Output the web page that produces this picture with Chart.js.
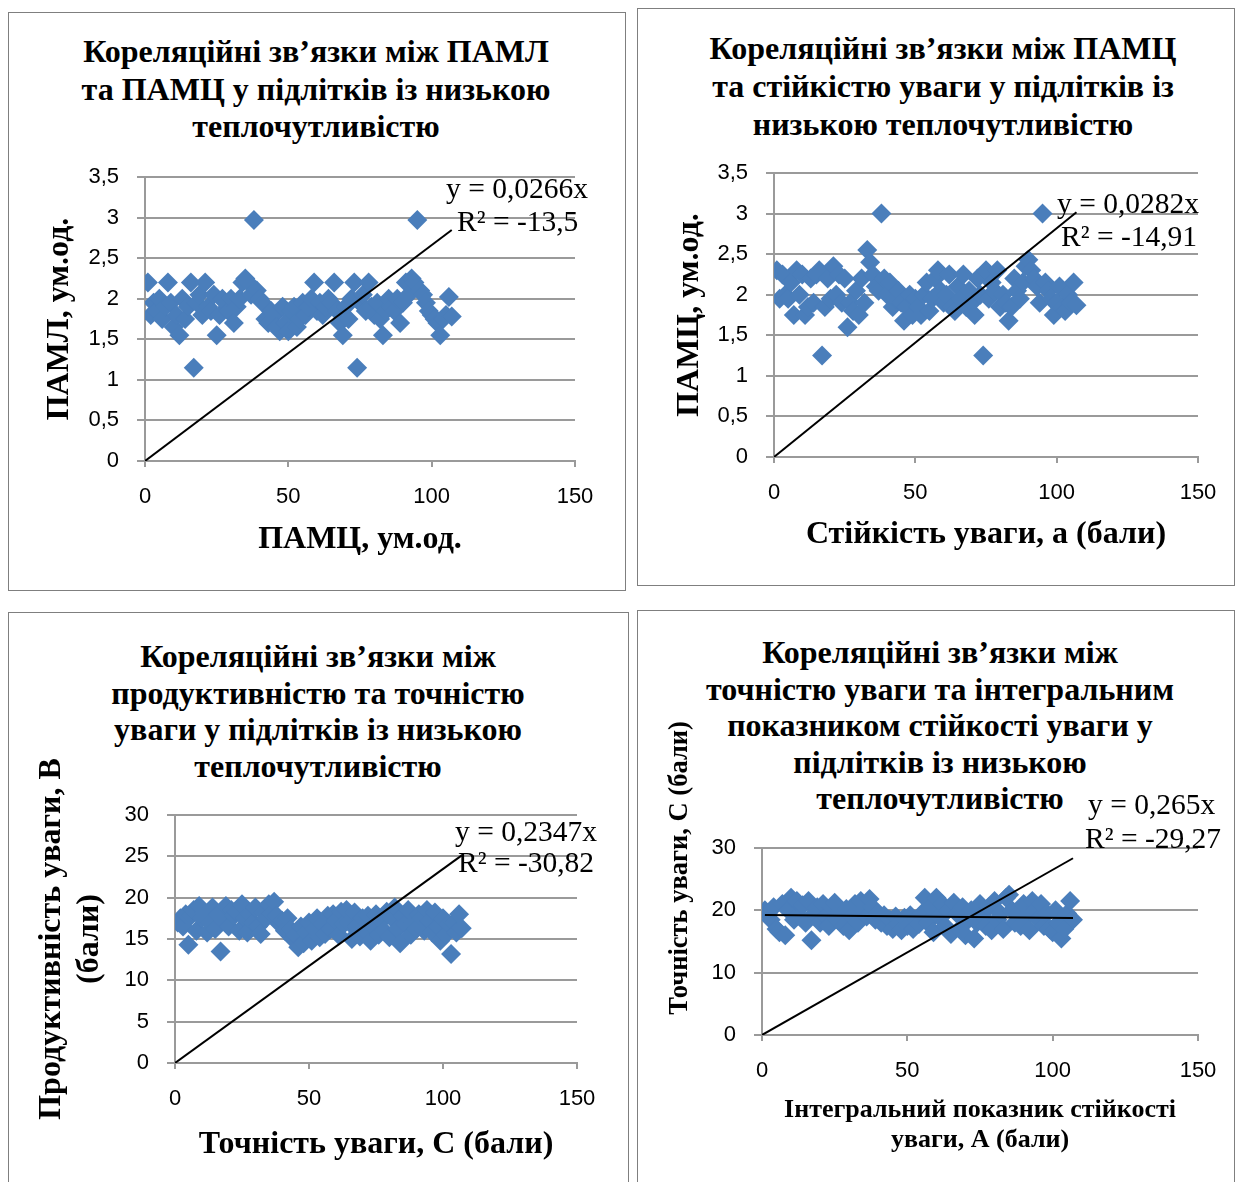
<!DOCTYPE html>
<html lang="uk">
<head>
<meta charset="UTF-8">
<title>Кореляційні зв’язки у підлітків із низькою теплочутливістю</title>
<script src="https://cdn.jsdelivr.net/npm/chart.js"></script>
<style>
  body { margin: 0; background: #fff; width: 1235px; height: 1182px; position: relative; overflow: hidden; font-family: "Liberation Serif", "Times New Roman", serif; color: #000; }
  .panel { position: absolute; border: 1px solid #7f7f7f; box-sizing: border-box; }
  .box { position: absolute; }
  .title { position: absolute; width: 640px; text-align: center; font-weight: bold; font-size: 32px; white-space: nowrap; }
  .eq { position: absolute; font-size: 29.5px; line-height: 32px; white-space: nowrap; }
  .vtitle { position: absolute; width: 400px; text-align: center; font-weight: bold; font-size: 26.5px; line-height: 28px; transform: rotate(-90deg); white-space: nowrap; }
</style>
</head>
<body>

<div class="panel" style="left:8px;top:12px;width:618px;height:579px"></div>
<div class="panel" style="left:637px;top:8px;width:598px;height:578px"></div>
<div class="panel" style="left:8px;top:612px;width:621px;height:580px"></div>
<div class="panel" style="left:637px;top:610px;width:598px;height:582px"></div>

<div class="title" style="left:-4px;top:33px;line-height:37.5px">Кореляційні зв’язки між ПАМЛ<br>та ПАМЦ у підлітків із низькою<br>теплочутливістю</div>
<div class="title" style="left:623px;top:29px;line-height:38px">Кореляційні зв’язки між ПАМЦ<br>та стійкістю уваги у підлітків із<br>низькою теплочутливістю</div>
<div class="title" style="left:-2px;top:638px;line-height:36.7px">Кореляційні зв’язки між<br>продуктивністю та точністю<br>уваги у підлітків із низькою<br>теплочутливістю</div>
<div class="title" style="left:620px;top:634px;line-height:36.5px">Кореляційні зв’язки між<br>точністю уваги та інтегральним<br>показником стійкості уваги у<br>підлітків із низькою<br>теплочутливістю</div>

<div class="box" style="left:9px;top:13px"><canvas id="c1" width="615" height="576"></canvas></div>
<div class="box" style="left:638px;top:9px"><canvas id="c2" width="596" height="576"></canvas></div>
<div class="box" style="left:9px;top:613px"><canvas id="c3" width="619" height="572"></canvas></div>
<div class="box" style="left:638px;top:611px"><canvas id="c4" width="596" height="574"></canvas></div>

<div class="eq" style="left:446px;top:172px">y = 0,0266x</div>
<div class="eq" style="left:457px;top:205px">R² = -13,5</div>
<div class="eq" style="left:1057px;top:187px">y = 0,0282x</div>
<div class="eq" style="left:1061px;top:220px">R² = -14,91</div>
<div class="eq" style="left:455px;top:815px">y = 0,2347x</div>
<div class="eq" style="left:458px;top:846px">R² = -30,82</div>
<div class="eq" style="left:1088px;top:788px">y = 0,265x</div>
<div class="eq" style="left:1085px;top:822px">R² = -29,27</div>

<div class="vtitle" style="left:478px;top:854px">Точність уваги, С (бали)</div>

<script>
// номер досліджуваного (вісь X на всіх графіках)
const subjects = [1,2,3,4,5,6,7,8,9,10,11,12,13,14,15,16,17,18,19,20,21,22,23,24,25,26,27,28,29,30,
  31,32,33,34,35,36,37,38,39,40,41,42,43,44,45,46,47,48,49,50,51,52,53,54,55,56,57,58,59,60,
  61,62,63,64,65,66,67,68,69,70,71,72,73,74,75,76,77,78,79,80,81,82,83,84,85,86,87,88,89,90,
  91,92,93,94,95,96,97,98,99,100,101,102,103,104,105,106,107];

// ПАМЛ, ум.од.
const paml = [2.2,1.8,1.95,1.85,2.0,1.75,1.9,2.2,1.95,1.65,1.8,1.55,2.0,1.75,1.9,2.2,1.15,1.95,2.05,1.8,
  2.2,1.9,1.85,2.05,1.55,1.8,2.0,1.95,1.85,2.0,1.7,1.9,2.0,2.2,2.25,2.2,2.05,2.97,2.1,2.0,
  1.95,1.75,1.7,1.85,1.8,1.65,1.6,1.9,1.7,1.6,1.85,1.9,1.65,1.75,1.95,1.8,1.9,2.0,2.2,1.85,
  1.95,1.8,1.9,2.0,1.95,2.2,1.85,1.7,1.55,1.9,1.75,2.0,2.2,1.15,1.95,2.05,1.85,2.2,1.9,1.8,
  1.95,1.75,1.55,1.85,2.0,1.9,1.85,2.0,1.7,1.95,2.2,2.05,2.25,2.2,2.97,2.1,2.05,1.95,1.85,1.8,
  1.75,1.7,1.55,1.75,1.8,2.02,1.78];

// ПАМЦ, ум.од.
const pamc = [2.3,1.95,2.25,2.0,1.95,2.15,1.75,2.3,2.0,2.25,1.75,1.85,2.2,1.9,2.25,2.3,1.25,1.85,2.2,1.95,
  2.35,2.0,2.25,1.9,2.2,1.6,1.9,1.8,2.05,1.75,2.2,1.9,2.55,2.4,2.25,2.1,2.05,3.0,2.2,2.0,
  2.15,1.85,1.95,2.05,1.9,1.68,1.85,2.0,1.75,1.95,1.85,1.75,2.0,2.15,1.8,1.95,2.2,2.3,2.05,1.9,
  2.0,2.25,1.85,1.8,2.1,1.95,2.25,1.85,2.05,1.9,1.75,2.2,2.0,1.25,2.3,1.95,2.15,2.05,2.3,1.85,
  2.0,1.9,1.68,1.85,2.2,2.05,1.95,2.15,2.35,2.43,2.3,2.2,2.1,1.9,3.0,2.15,2.05,1.95,1.75,1.9,
  2.1,1.85,1.8,2.0,1.9,2.15,1.87];

// Продуктивність уваги, В (бали)
const productivity = [17.0,17.5,16.5,18.0,14.3,17.8,18.5,16.0,19.0,17.5,18.2,15.8,17.0,18.8,16.2,18.0,13.5,17.2,19.0,16.5,
  18.5,17.8,18.3,16.0,19.2,17.5,15.8,18.0,17.0,18.8,16.5,15.6,18.2,17.5,19.2,18.0,19.5,17.8,16.8,17.2,
  16.0,17.5,16.2,15.0,15.5,14.0,16.5,14.5,15.8,17.0,14.8,16.2,17.5,15.2,16.8,15.6,17.8,16.2,18.0,17.2,
  15.5,18.3,16.8,18.5,17.0,15.0,18.2,16.5,15.3,17.5,16.0,17.8,14.8,16.5,18.0,15.5,17.2,16.0,18.3,15.2,
  17.5,18.8,16.2,14.5,17.8,16.8,18.5,15.5,17.0,16.2,18.0,17.5,16.0,18.5,17.2,15.8,18.2,16.5,14.8,17.5,
  15.5,16.8,13.2,17.0,15.8,18.0,16.3];

// Точність уваги, С (бали)
const accuracy = [20.0,19.5,18.5,20.5,17.0,16.5,21.0,16.0,20.0,22.0,18.5,21.5,19.0,20.8,18.0,21.5,15.2,19.5,20.5,18.0,
  21.0,19.0,17.5,20.5,21.2,18.5,19.8,17.5,20.2,16.8,19.0,21.0,18.0,21.5,20.0,19.0,21.8,20.5,18.5,19.5,
  18.0,19.2,17.5,18.5,17.0,19.0,17.8,16.8,18.8,17.5,19.2,17.0,18.5,17.8,19.5,22.0,18.0,20.5,16.5,22.0,
  19.0,21.0,17.5,20.0,16.2,21.2,19.5,17.0,20.5,16.0,18.5,20.0,15.5,18.0,21.0,19.0,17.5,20.5,16.8,21.5,
  18.5,19.5,17.0,22.0,22.5,20.0,18.0,19.5,17.5,21.0,19.0,16.8,21.5,20.0,18.5,21.0,17.5,19.5,17.0,16.5,
  20.0,18.0,15.5,17.0,19.5,21.5,18.5];

// коефіцієнти лінійних трендів (через початок координат), як підписано на графіках
const trendSlopes = [0.0266, 0.0282, 0.2347, 0.265];

const xTickValues = [0, 50, 100, 150];

Chart.defaults.font.family = '"Liberation Sans", Arial, sans-serif';
Chart.defaults.font.size = 22;
Chart.defaults.color = '#000';

const pointBlue = '#4a7ebb';
const gridGray = '#9a9a9a';

function fitLine(xs, ys) {
  const n = xs.length;
  let sx = 0, sy = 0, sxx = 0, sxy = 0;
  for (let i = 0; i < n; i++) {
    sx += xs[i]; sy += ys[i]; sxx += xs[i] * xs[i]; sxy += xs[i] * ys[i];
  }
  const b = (n * sxy - sx * sy) / (n * sxx - sx * sx);
  return { a: (sy - b * sx) / n, b: b };
}

function makeChart(id, values, slope, cfg) {
  const xEnd = subjects[subjects.length - 1];
  const datasets = [{
    data: [{ x: 0, y: 0 }, { x: xEnd, y: slope * xEnd }],
    showLine: true,
    borderColor: '#000',
    borderWidth: 2,
    pointRadius: 0,
    order: 0
  }];
  if (cfg.fullTrend) {
    const f = fitLine(subjects, values);
    datasets.push({
      data: [{ x: subjects[0], y: f.a + f.b * subjects[0] }, { x: xEnd, y: f.a + f.b * xEnd }],
      showLine: true,
      borderColor: '#000',
      borderWidth: 2,
      pointRadius: 0,
      order: 1
    });
  }
  datasets.push({
    data: subjects.map((s, i) => ({ x: s, y: values[i] })),
    pointStyle: 'rectRot',
    pointRadius: 10,
    pointHoverRadius: 10,
    backgroundColor: pointBlue,
    borderColor: pointBlue,
    borderWidth: 0,
    order: 2
  });

  new Chart(document.getElementById(id), {
    type: 'scatter',
    data: { datasets: datasets },
    options: {
      responsive: false,
      animation: false,
      layout: { padding: { top: cfg.padTop, right: cfg.padRight, left: 0, bottom: 0 } },
      plugins: { legend: { display: false }, tooltip: { enabled: false } },
      scales: {
        x: {
          min: 0, max: 150,
          afterBuildTicks: axis => { axis.ticks = xTickValues.map(v => ({ value: v })); },
          afterFit: scale => { scale.height = cfg.xHeight; },
          grid: { drawOnChartArea: false, drawTicks: true, tickLength: 6, color: gridGray, lineWidth: 2 },
          border: { color: gridGray, width: 2 },
          ticks: { padding: 17, maxRotation: 0 },
          title: {
            display: true,
            text: cfg.xTitle,
            font: { family: '"Liberation Serif", serif', size: cfg.xTitleSize, weight: 'bold', lineHeight: cfg.xTitleLine },
            padding: { top: 0, bottom: cfg.xTitlePad }
          }
        },
        y: {
          min: 0, max: cfg.yMax,
          afterFit: scale => { scale.width = cfg.yWidth; },
          grid: { color: gridGray, lineWidth: 2, tickLength: 8 },
          border: { color: gridGray, width: 2 },
          ticks: {
            stepSize: cfg.yStep,
            padding: 18,
            callback: v => String(v).replace('.', ',')
          },
          title: {
            display: !!cfg.yTitle,
            text: cfg.yTitle || '',
            font: { family: '"Liberation Serif", serif', size: 32, weight: 'bold', lineHeight: cfg.yTitleLine || 1.2 },
            padding: { top: cfg.yTitlePad || 0, bottom: 0 }
          }
        }
      }
    }
  });
}

makeChart('c1', paml, trendSlopes[0], {
  padTop: 164, padRight: 49, yWidth: 136, xHeight: 128,
  yMax: 3.5, yStep: 0.5,
  xTitle: 'ПАМЦ, ум.од.', xTitleSize: 32, xTitleLine: 1.2, xTitlePad: 30,
  yTitle: 'ПАМЛ, ум.од.', yTitlePad: 32
});

makeChart('c2', pamc, trendSlopes[1], {
  padTop: 164, padRight: 36, yWidth: 136, xHeight: 128,
  yMax: 3.5, yStep: 0.5,
  xTitle: 'Стійкість уваги, а (бали)', xTitleSize: 32, xTitleLine: 1.2, xTitlePad: 31,
  yTitle: 'ПАМЦ, ум.од.', yTitlePad: 33
});

makeChart('c3', productivity, trendSlopes[2], {
  padTop: 202, padRight: 51, yWidth: 166, xHeight: 122,
  yMax: 30, yStep: 5,
  xTitle: 'Точність уваги, С (бали)', xTitleSize: 32, xTitleLine: 1.2, xTitlePad: 21,
  yTitle: ['Продуктивність уваги, В', '(бали)'], yTitleLine: 1.19, yTitlePad: 24
});

makeChart('c4', accuracy, trendSlopes[3], {
  padTop: 237, padRight: 36, yWidth: 124, xHeight: 150,
  yMax: 30, yStep: 10, fullTrend: true,
  xTitle: ['Інтегральний показник стійкості', 'уваги, А (бали)'], xTitleSize: 26, xTitleLine: 1.154, xTitlePad: 30
});
</script>
</body>
</html>
